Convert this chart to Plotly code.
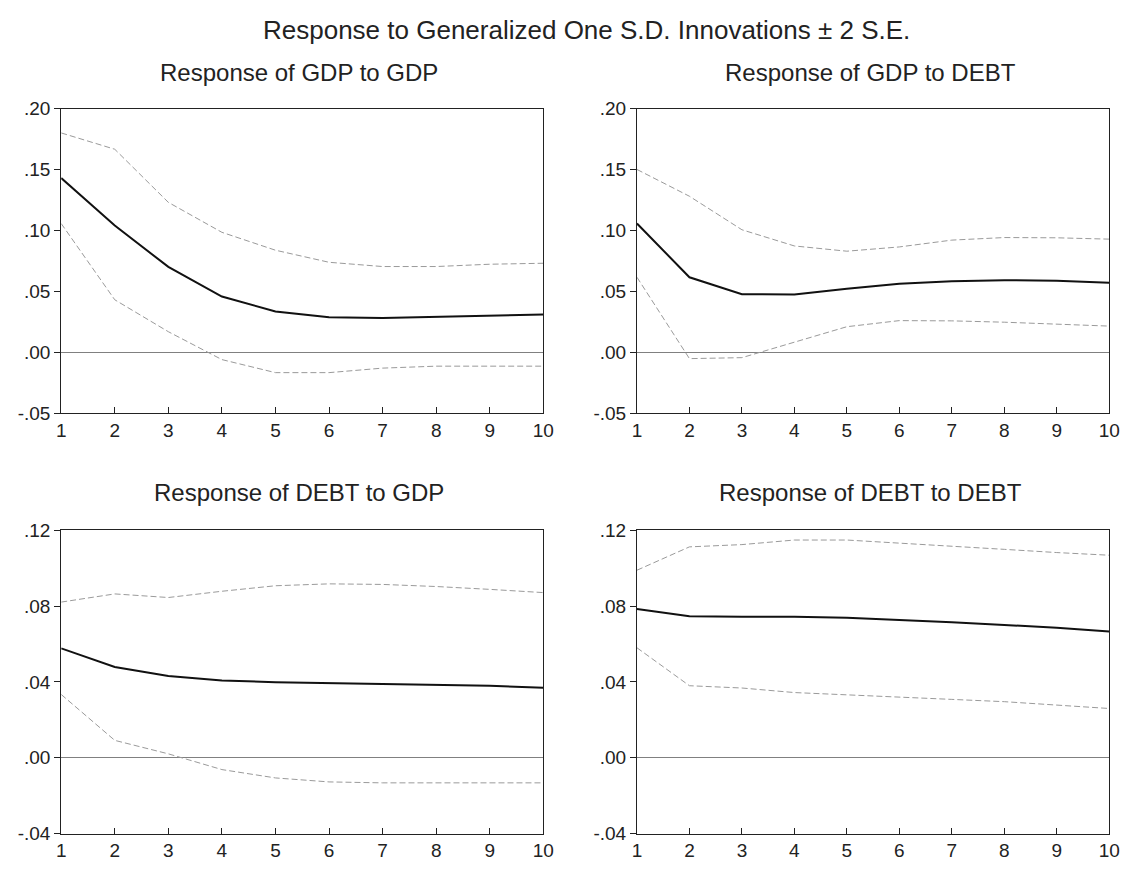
import plotly.graph_objects as go

periods = list(range(1, 11))

# Response of GDP to GDP
gdp_gdp = [0.143, 0.104, 0.070, 0.0457, 0.0334, 0.0286, 0.0281, 0.0291, 0.0302, 0.031]
gdp_gdp_up = [0.180, 0.1666, 0.123, 0.0984, 0.0837, 0.0738, 0.0703, 0.0703, 0.0722, 0.073]
gdp_gdp_lo = [0.1056, 0.043, 0.0168, -0.0061, -0.0168, -0.0168, -0.0131, -0.0115, -0.0115, -0.0115]

# Response of GDP to DEBT
gdp_debt = [0.1056, 0.0615, 0.0476, 0.0473, 0.0521, 0.0561, 0.0583, 0.0591, 0.0586, 0.057]
gdp_debt_up = [0.150, 0.128, 0.1005, 0.0872, 0.0829, 0.0864, 0.092, 0.0941, 0.0939, 0.0928]
gdp_debt_lo = [0.0615, -0.0053, -0.0045, 0.0083, 0.0209, 0.0259, 0.0257, 0.0246, 0.023, 0.0214]

# Response of DEBT to GDP
debt_gdp = [0.0577, 0.0479, 0.0431, 0.0407, 0.0399, 0.0394, 0.039, 0.0385, 0.038, 0.037]
debt_gdp_up = [0.0821, 0.0864, 0.0845, 0.0878, 0.0907, 0.0917, 0.0914, 0.0903, 0.0888, 0.0871]
debt_gdp_lo = [0.0334, 0.0092, 0.0021, -0.0062, -0.0106, -0.0127, -0.0132, -0.0132, -0.0132, -0.0132]

# Response of DEBT to DEBT
debt_debt = [0.0784, 0.0746, 0.0744, 0.0744, 0.0738, 0.0727, 0.0714, 0.070, 0.0686, 0.0666]
debt_debt_up = [0.0989, 0.1112, 0.1124, 0.1148, 0.1148, 0.1133, 0.1116, 0.1099, 0.1082, 0.1068]
debt_debt_lo = [0.058, 0.038, 0.0368, 0.0344, 0.0332, 0.0322, 0.0308, 0.0296, 0.0279, 0.026]

top_ticks = [-0.05, 0.00, 0.05, 0.10, 0.15, 0.20]
top_labels = ["-.05", ".00", ".05", ".10", ".15", ".20"]
bot_ticks = [-0.04, 0.00, 0.04, 0.08, 0.12]
bot_labels = ["-.04", ".00", ".04", ".08", ".12"]

titles = ["Response of GDP to GDP", "Response of GDP to DEBT",
          "Response of DEBT to GDP", "Response of DEBT to DEBT"]
main_title = "Response to Generalized One S.D. Innovations \u00b1 2 S.E."

W, H = 1136, 873
FONT = "Liberation Sans, Arial, sans-serif"

panels = [
    (gdp_gdp, gdp_gdp_up, gdp_gdp_lo, (57, 546), (101, 413), top_ticks, top_labels, [-0.05, 0.20], 64),
    (gdp_debt, gdp_debt_up, gdp_debt_lo, (641, 1120), (101, 413), top_ticks, top_labels, [-0.05, 0.20], 64),
    (debt_gdp, debt_gdp_up, debt_gdp_lo, (57, 546), (533, 844), bot_ticks, bot_labels, [-0.04, 0.12], 494),
    (debt_debt, debt_debt_up, debt_debt_lo, (641, 1120), (533, 844), bot_ticks, bot_labels, [-0.04, 0.12], 494),
]

def px(x):
    return x / W

def py(y):
    return 1 - y / H

fig = go.Figure()
layout = dict(
    width=W, height=H, margin=dict(l=0, r=0, t=0, b=0),
    paper_bgcolor="white", plot_bgcolor="white", showlegend=False,
    font=dict(family=FONT, color="#222222"),
)
annotations = []
for i, (mid, up, lo, (x0, x1), (y0, y1), tv, tt, yr, ty) in enumerate(panels):
    n = i + 1
    xa = "x" if n == 1 else f"x{n}"
    ya = "y" if n == 1 else f"y{n}"
    xkey = "xaxis" if n == 1 else f"xaxis{n}"
    ykey = "yaxis" if n == 1 else f"yaxis{n}"
    for series, color, width, dash in [(up, "#9a9a9a", 1, "6px,3px"), (lo, "#9a9a9a", 1, "6px,3px"),
                                       (mid, "#111111", 2, "solid")]:
        fig.add_trace(go.Scatter(x=periods, y=series, mode="lines", xaxis=xa, yaxis=ya,
                                 line=dict(color=color, width=width, dash=dash),
                                 hoverinfo="skip"))
    layout[xkey] = dict(domain=[px(x0), px(x1)], range=[1, 10], tickmode="array", tickvals=periods,
                        ticks="inside", ticklen=6, tickcolor="#222", showgrid=False, zeroline=False,
                        showline=True, linecolor="#222", linewidth=1, mirror=True,
                        tickfont=dict(size=19, family=FONT, color="#222"), anchor=ya, fixedrange=True)
    layout[ykey] = dict(domain=[py(y1), py(y0)], range=yr, tickmode="array", tickvals=tv,
                        ticktext=tt, ticks="outside", ticklen=6, tickcolor="#222", showgrid=False,
                        zeroline=True, zerolinecolor="#808080", zerolinewidth=1,
                        showline=True, linecolor="#222", linewidth=1, mirror=True,
                        tickfont=dict(size=19, family=FONT, color="#222"), anchor=xa, fixedrange=True)
    annotations.append(dict(text=titles[i], x=px((x0 + x1) / 2 - 3), y=py(ty),
                            xref="paper", yref="paper", showarrow=False,
                            xanchor="center", yanchor="middle",
                            font=dict(size=24, family=FONT, color="#222")))

annotations.append(dict(text=main_title, x=px(590), y=py(20), xref="paper", yref="paper",
                        showarrow=False, xanchor="center", yanchor="middle",
                        font=dict(size=26, family=FONT, color="#222")))
layout["annotations"] = annotations
fig.update_layout(**layout)
fig.write_html("out.html", config={"displayModeBar": False},
               post_script="document.body.style.margin='0';document.body.style.overflow='hidden';")
